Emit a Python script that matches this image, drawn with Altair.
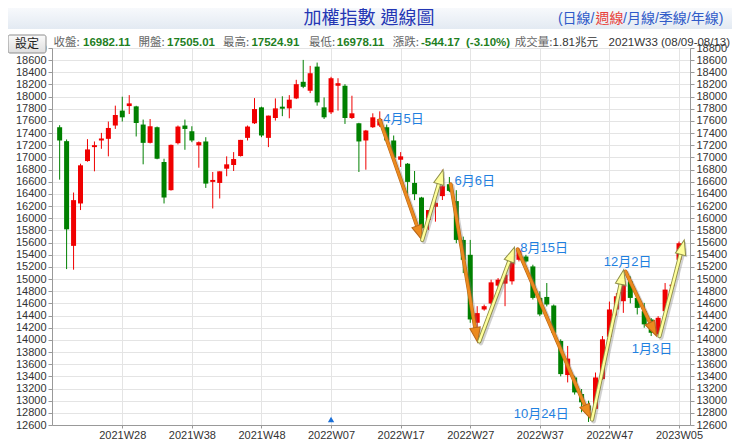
import math
import altair as alt
import pandas as pd

# ---------------- data ----------------
opens = [17497, 17268, 15546, 16243, 16941, 17170, 17279, 17306, 17525, 17770,
         17845, 17840, 17541, 17240, 17497, 16925, 16462, 17235, 17525, 17431,
         17198, 17263, 16598, 16581, 16815, 16876, 17023, 17322, 17562, 17824,
         17322, 17649, 17835, 17807, 17971, 18244, 18097, 18494, 17824, 17742,
         18179, 18179, 17649, 17562, 17279, 17497, 17525, 17497, 17279, 16962,
         16897, 16581, 16341, 15971, 16189, 16364, 16560, 16282, 15644, 15399,
         14281, 14500, 14598, 14892, 14925, 14963, 15317, 15371, 15208, 14690,
         14706, 14565, 13982, 13421, 13382, 13110, 12919, 12865, 13355, 14050,
         14500, 14636, 14963, 14690, 14472, 14336, 14091, 14472, 14881, 15317]
highs = [17530, 17296, 16423, 16897, 17301, 17263, 17404, 17590, 17852, 17999,
         18025, 17850, 17623, 17632, 17508, 16979, 17212, 17525, 17623, 17513,
         17263, 17333, 16761, 16772, 17018, 17088, 17289, 17525, 17976, 17835,
         17688, 17971, 18006, 18025, 18277, 18604, 18506, 18560, 17987, 18326,
         18303, 18205, 18015, 17570, 17453, 17726, 17758, 17541, 17361, 17088,
         16908, 16777, 16352, 16135, 16352, 16799, 16679, 16462, 15698, 15644,
         14554, 14580, 14990, 15016, 15098, 15344, 15507, 15399, 15236, 14799,
         14935, 14582, 14009, 13900, 13410, 13192, 13000, 13463, 14063, 14630,
         14770, 15126, 15045, 14770, 14608, 14360, 14390, 14935, 14935, 15617]
lows = [16635, 15164, 15154, 16135, 16930, 16772, 17142, 17018, 17469, 17590,
        17714, 17345, 16887, 17230, 16970, 16243, 16455, 17214, 17126, 17251,
        16831, 16499, 16161, 16325, 16691, 16777, 17015, 17279, 17550, 17333,
        17170, 17606, 17679, 17644, 17960, 18139, 18058, 17852, 17633, 17714,
        17770, 17551, 17633, 16761, 16799, 17485, 17500, 17251, 16952, 16843,
        16406, 16298, 15698, 15808, 15944, 16300, 16430, 15589, 15098, 14281,
        14009, 14480, 14582, 14870, 14554, 14909, 15290, 15270, 14663, 14390,
        14550, 14090, 13400, 13300, 13100, 12809, 12650, 12837, 13340, 14000,
        14400, 14444, 14600, 14418, 14200, 14063, 14063, 14444, 14860, 15290]
closes = [17279, 15818, 16298, 16871, 17132, 17202, 17312, 17485, 17698, 17660,
          17889, 17567, 17240, 17513, 16979, 16341, 17207, 17508, 17469, 17279,
          17251, 16570, 16630, 16772, 16887, 16974, 17289, 17508, 17796, 17361,
          17688, 17807, 17802, 17950, 18205, 18162, 18385, 17906, 17660, 18303,
          18221, 17649, 17726, 17263, 17443, 17660, 17633, 17279, 16995, 17018,
          16598, 16396, 15834, 16135, 16254, 16527, 16450, 15644, 15317, 14336,
          14440, 14554, 14946, 14990, 15072, 15317, 15469, 15289, 14690, 14418,
          14582, 14117, 13437, 13692, 13136, 12973, 12837, 13382, 14009, 14500,
          14717, 14963, 14690, 14526, 14255, 14117, 14363, 14827, 14909, 15589]

tick_bars = [9, 19, 29, 39, 49, 59, 69, 79, 89]
tick_labels = ["2021W28", "2021W38", "2021W48", "2022W07", "2022W17",
               "2022W27", "2022W37", "2022W47", "2023W05"]

# trend arrows: start (bar, price) -> end (bar, price)
arrow_x1 = [46.0, 52.1, 56.2, 60.3, 65.8, 76.5, 81.3, 86.2]
arrow_y1 = [17616, 15644, 16560, 13975, 15490, 12690, 15126, 14063]
arrow_x2 = [52.05, 55.1, 60.05, 65.35, 76.3, 81.05, 85.75, 89.75]
arrow_y2 = [15644, 16799, 13960, 15523, 12700, 15154, 14063, 15644]
arrow_kind = ["down", "up", "down", "up", "down", "up", "down", "up"]

note_text = ["4月5日", "6月6日", "8月15日", "10月24日", "12月2日", "1月3日"]
note_x = [46.5, 56.75, 66.2, 65.25, 78.2, 82.2]
note_y = [17633, 16614, 15507, 12783, 15273, 13846]

marker_x = [39]
marker_y = [12690]

title_text = "加權指數 週線圖"
link_parts = ["(日線/", "週線", "/月線/季線/年線)"]
info_labels = ["收盤:", "開盤:", "最高:", "最低:", "漲跌:", "成交量:"]
info_values = ["16982.11", "17505.01", "17524.91", "16978.11", "-544.17", "(-3.10%)"]
info_tail = ["1.81兆元", "2021W33 (08/09-08/13)"]

# ---------------- layout / style ----------------
W, H = 638, 377
XMIN, XMAX = -0.38, 89.86
YMIN, YMAX = 12600, 18800
PXX = W / (XMAX - XMIN)
PXY = H / (YMAX - YMIN)
RED, GREEN = "#f00000", "#008000"
CJK = "Noto Sans CJK TC"
LAT = "Liberation Sans, Noto Sans CJK TC"
PAD_L, PAD_T, SVG_W, SVG_H = 44, 40, 724, 431

df = pd.DataFrame({"i": list(range(len(opens))), "open": opens, "high": highs,
                   "low": lows, "close": closes})
df["dir"] = ["up" if c >= o else "down" for o, c in zip(opens, closes)]

xscale = alt.Scale(domain=[XMIN, XMAX], nice=False, zero=False)
yscale = alt.Scale(domain=[YMIN, YMAX], nice=False, zero=False)
color = alt.Color("dir:N", scale=alt.Scale(domain=["up", "down"], range=[RED, GREEN]), legend=None)

label_expr = " : ".join(f"datum.value == {b} ? '{t}'" for b, t in zip(tick_bars, tick_labels)) + " : ''"
x_axis = alt.Axis(values=tick_bars, labelExpr=label_expr, title=None, grid=True,
                  gridColor="#e4e4e4", tickSize=3, tickColor="#999", domainColor="#999",
                  labelFontSize=11, labelColor="#333", labelFont="Liberation Sans",
                  labelPadding=1)
yvals = list(range(YMIN, YMAX + 1, 200))
left_axis = alt.Axis(values=yvals, format="d", title=None, grid=True, gridColor="#e4e4e4",
                     tickSize=4, tickColor="#999", domainColor="#999", labelFontSize=11,
                     labelColor="#333", labelFont="Liberation Sans", labelPadding=2,
                     labelOverlap=False, labelFlush=False)
right_axis = alt.Axis(values=yvals, format="d", title=None, grid=False, orient="right",
                      tickSize=4, tickColor="#999", domainColor="#999", labelFontSize=11,
                      labelColor="#333", labelFont="Liberation Sans", labelPadding=2,
                      labelOverlap=False, labelFlush=False)

AX = lambda f: alt.X(f, scale=xscale, axis=x_axis)
AY = lambda f: alt.Y(f, scale=yscale, axis=None)

base = alt.Chart(df)
wicks = base.mark_rule(strokeWidth=1).encode(
    x=AX("i:Q"), y=alt.Y("low:Q", scale=yscale, axis=left_axis), y2="high:Q", color=color)
bodies = base.mark_bar(size=5, strokeWidth=0).encode(
    x=AX("i:Q"), y=AY("open:Q"), y2="close:Q", color=color)
right = base.mark_point(opacity=0).encode(
    x=AX("i:Q"), y=alt.Y("close:Q", scale=yscale, axis=right_axis))

# arrows (head centre set back from the tip, rotated along the arrow)
HEAD = 8.5
SH = 1.6  # shadow offset in pixels
rows = []
for x1, y1, x2, y2, k in zip(arrow_x1, arrow_y1, arrow_x2, arrow_y2, arrow_kind):
    dx = (x2 - x1) * PXX
    dy = -(y2 - y1) * PXY
    L = math.hypot(dx, dy)
    ux, uy = dx / L, dy / L
    xh = x2 - ux * HEAD / PXX
    yh = y2 + uy * HEAD / PXY
    ang = math.degrees(math.atan2(ux, -uy)) % 360
    rows.append({"x1": x1, "y1": y1, "xh": xh, "yh": yh, "ang": ang, "kind": k,
                 "sx1": x1 + SH / PXX, "sy1": y1 - SH / PXY,
                 "sxh": xh + SH / PXX, "syh": yh - SH / PXY})
adf = pd.DataFrame(rows)
up_df = adf[adf.kind == "up"]
dn_df = adf[adf.kind == "down"]

head_shape = "M0,-1L0.62,0.75L-0.62,0.75Z"

def arrow_layers(d, outline, fill, w_out, w_in):
    b = alt.Chart(d)
    s1 = b.mark_rule(strokeWidth=w_out + 0.5, color="#7a7a7a", opacity=0.35, strokeCap="round").encode(
        x=AX("sx1:Q"), y=AY("sy1:Q"), x2="sxh:Q", y2="syh:Q")
    s2 = b.mark_point(shape=head_shape, filled=True, size=300, color="#7a7a7a", opacity=0.35).encode(
        x=AX("sxh:Q"), y=AY("syh:Q"), angle=alt.Angle("ang:Q", scale=None))
    l1 = b.mark_rule(strokeWidth=w_out, color=outline, strokeCap="round").encode(
        x=AX("x1:Q"), y=AY("y1:Q"), x2="xh:Q", y2="yh:Q")
    l2 = b.mark_rule(strokeWidth=w_in, color=fill, strokeCap="round").encode(
        x=AX("x1:Q"), y=AY("y1:Q"), x2="xh:Q", y2="yh:Q")
    hd = b.mark_point(shape=head_shape, filled=True, size=289, fill=fill, stroke=outline,
                      strokeWidth=1, opacity=1).encode(
        x=AX("xh:Q"), y=AY("yh:Q"), angle=alt.Angle("ang:Q", scale=None))
    return [s1, s2, l1, l2, hd]

arrows_dn = arrow_layers(dn_df, "#b8671a", "#ec8a1e", 3.8, 2.6)
arrows_up = arrow_layers(up_df, "#8f8f48", "#ffff9c", 4.2, 2.4)

ndf = pd.DataFrame({"t": note_text, "x": note_x, "y": note_y})
notes = alt.Chart(ndf).mark_text(align="left", baseline="middle", fontSize=13,
                                 color="#1f80e0", font=LAT).encode(
    x=AX("x:Q"), y=AY("y:Q"), text="t:N")

mdf = pd.DataFrame({"x": marker_x, "y": marker_y})
marker = alt.Chart(mdf).mark_point(shape="triangle-up", filled=True, size=40,
                                   color="#1a6fd8", opacity=1).encode(x=AX("x:Q"), y=AY("y:Q"))

# ---------------- header UI ----------------
blank = alt.Data(values=[{"a": 1}])

def txt(s, px, py, size, col, align="left", weight="normal", font=LAT):
    return alt.Chart(blank).mark_text(text=s, align=align, baseline="middle", fontSize=size,
                                      color=col, fontWeight=weight, font=font).encode(
        x=alt.value(px), y=alt.value(py))

band = alt.Chart(blank).mark_rect(
    color=alt.Gradient(gradient="linear", stops=[alt.GradientStop(color="#f7f9fc", offset=0),
                                                  alt.GradientStop(color="#e3eaf2", offset=1)],
                       x1=0, x2=0, y1=0, y2=1)).encode(
    x=alt.value(-PAD_L), x2=alt.value(SVG_W - PAD_L), y=alt.value(-PAD_T), y2=alt.value(-19))
button = alt.Chart(blank).mark_rect(
    color=alt.Gradient(gradient="linear", stops=[alt.GradientStop(color="#fbfbfb", offset=0),
                                                  alt.GradientStop(color="#dedede", offset=1)],
                       x1=0, x2=0, y1=0, y2=1),
    stroke="#8e8e8e", strokeWidth=1, cornerRadius=2).encode(
    x=alt.value(-44), x2=alt.value(-6), y=alt.value(-13), y2=alt.value(5))

HY = -29
IY = -5
header = [band, button, txt("設定", -25, -4, 12, "#222", align="center", font=CJK),
          txt(title_text, 317, HY, 18, "#2436b4", align="center", font=LAT),
          txt(link_parts[0], 542.5, HY, 14, "#2f5bc9", align="right", font=LAT),
          txt(link_parts[1], 543.5, HY, 14, "#e8413a", font=LAT),
          txt(link_parts[2], 571, HY, 14, "#2f5bc9", font=LAT)]

label_px = [1.6, 86.5, 171, 257, 340.8, 462.7]
value_px = [31, 115, 199.4, 284.8, 369, 414]
tail_px = [500.6, 556.6]
for s, p in zip(info_labels, label_px):
    header.append(txt(s, p, IY, 11.5, "#666", font=CJK))
for s, p in zip(info_values, value_px):
    header.append(txt(s, p, IY, 11.5, "#1f7f1f", weight="bold"))
for s, p in zip(info_tail, tail_px):
    header.append(txt(s, p, IY, 11.5, "#333"))

chart = alt.layer(
    wicks, bodies, right, marker, *arrows_dn, *arrows_up, notes, *header
).resolve_scale(y="independent").properties(
    width=W, height=H,
    padding={"left": PAD_L, "top": PAD_T, "right": SVG_W - PAD_L - W,
             "bottom": SVG_H - PAD_T - H},
    autosize=alt.AutoSizeParams(type="none"),
    background="white",
).configure_view(stroke="#c8c8c8")

chart.save("out.html", embed_options={"renderer": "svg", "actions": False})
